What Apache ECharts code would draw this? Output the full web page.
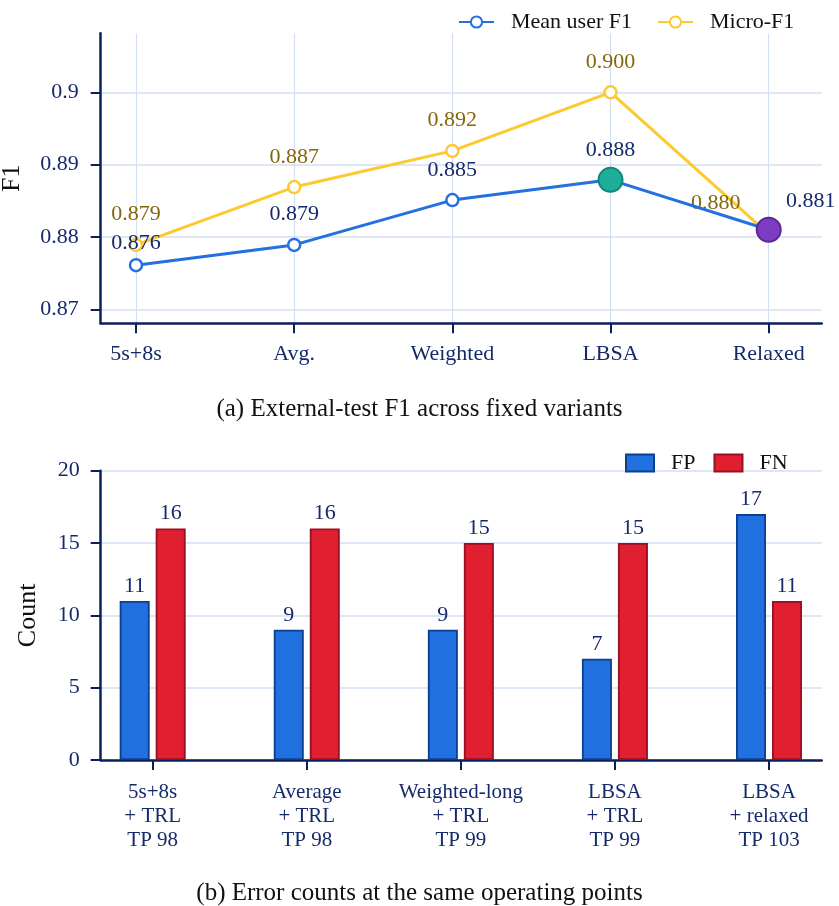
<!DOCTYPE html>
<html><head><meta charset="utf-8">
<script src="https://cdn.jsdelivr.net/npm/echarts@6/dist/echarts.min.js"></script>
<style>html,body{margin:0;padding:0;background:#fff}#c{width:839px;height:906px}</style>
</head><body><div id="c"></div>
<script>
// ---- data ----
const variantsTop = ['5s+8s', 'Avg.', 'Weighted', 'LBSA', 'Relaxed'];
const meanUserF1 = [0.8761, 0.8789, 0.8851, 0.8879, 0.8810];
const microF1 = [0.8789, 0.8869, 0.8919, 0.9000, 0.8804];
const f1Ticks = [0.87, 0.88, 0.89, 0.90];
const categoryIdx = [0, 1, 2, 3, 4];

const operatingPoints = ['5s+8s\n+ TRL\nTP 98', 'Average\n+ TRL\nTP 98', 'Weighted-long\n+ TRL\nTP 99', 'LBSA\n+ TRL\nTP 99', 'LBSA\n+ relaxed\nTP 103'];
const fpCounts = [11, 9, 9, 7, 17];
const fnCounts = [16, 16, 15, 15, 11];

// ---- style ----
const FONT = 'Liberation Serif, Times New Roman, DejaVu Serif, serif';
const NAVY = '#142a6c';
const AXIS = '#0b1f5e';
const GRID = '#d3e0f1';
const BLUE = '#2370e0';
const YEL = '#fcca2e';
const YEL_TXT = '#86660a';

const chart = echarts.init(document.getElementById('c'), null, {renderer: 'canvas'});

const blueData = meanUserF1.map((v, i) => {
  const d = {value: [categoryIdx[i], v]};
  if (i === 0) d.label = {distance: 4};
  if (i === 3) { d.symbolSize = 24; d.itemStyle = {color: '#1eae98', borderColor: '#11877a', borderWidth: 2}; d.label = {distance: 6}; }
  if (i === 4) { d.symbolSize = 24; d.itemStyle = {color: '#7c3dc2', borderColor: '#5a2797', borderWidth: 2}; d.label = {distance: 5, offset: [42, 0]}; }
  return d;
});
const yelData = microF1.map((v, i) => {
  const d = {value: [categoryIdx[i], v]};
  if (i === 4) d.label = {distance: 13, offset: [-53, 0]};
  return d;
});

const axisLbl = {color: NAVY, fontFamily: FONT, fontSize: 22};
const axLine = {show: true, onZero: false, lineStyle: {color: AXIS, width: 2.5}};

chart.setOption({
  animation: false,
  textStyle: {fontFamily: FONT},
  title: [
    {text: '(a) External-test F1 across fixed variants', left: 'center', top: 392,
     textStyle: {fontFamily: FONT, fontSize: 25, fontWeight: 'normal', color: '#111'}},
    {text: '(b) Error counts at the same operating points', left: 'center', top: 876,
     textStyle: {fontFamily: FONT, fontSize: 25, fontWeight: 'normal', color: '#111'}}
  ],
  legend: [
    {data: ['Mean user F1', 'Micro-F1'], left: 458, top: 11, padding: 0, itemWidth: 35, itemHeight: 14, itemGap: 25,
     textStyle: {fontFamily: FONT, fontSize: 22, color: '#111', padding: [0, 0, 0, 12]}},
    {data: ['FP', 'FN'], left: 625, top: 452, padding: 0, icon: 'rect', itemWidth: 28, itemHeight: 17, itemGap: 18,
     textStyle: {fontFamily: FONT, fontSize: 22, color: '#111', padding: [0, 0, 0, 12]}}
  ],
  grid: [
    {left: 100.7, right: 17.3, top: 33.3, bottom: 582.7, containLabel: false, outerBoundsMode: 'none'},
    {left: 100.7, right: 17.3, top: 470.7, bottom: 146, containLabel: false, outerBoundsMode: 'none'}
  ],
  xAxis: [
    {gridIndex: 0, type: 'value', min: -0.2231, max: 4.335,
     axisLine: axLine,
     axisTick: {show: true, customValues: categoryIdx, length: 10, lineStyle: {color: AXIS, width: 2}},
     axisLabel: Object.assign({customValues: categoryIdx, margin: 20, formatter: v => variantsTop[Math.round(v)]}, axisLbl),
     splitLine: {show: true, lineStyle: {color: GRID, width: 1.2}}},
    {gridIndex: 1, type: 'value', min: -0.3374, max: 4.342,
     axisLine: axLine,
     axisTick: {show: true, customValues: categoryIdx, length: 10, lineStyle: {color: AXIS, width: 2}},
     axisLabel: {customValues: categoryIdx, margin: 20, lineHeight: 24, fontSize: 21, color: NAVY, fontFamily: FONT,
                 formatter: v => operatingPoints[Math.round(v)]},
     splitLine: {show: false}}
  ],
  yAxis: [
    {gridIndex: 0, type: 'value', min: 0.868064, max: 0.908157,
     name: 'F1', nameLocation: 'middle', nameGap: 76, nameTextStyle: {fontFamily: FONT, fontSize: 26, color: '#111'},
     axisLine: axLine,
     axisTick: {show: true, customValues: f1Ticks, length: 10, lineStyle: {color: AXIS, width: 2}},
     axisLabel: Object.assign({customValues: f1Ticks, margin: 22}, axisLbl),
     splitLine: {show: true, lineStyle: {color: GRID, width: 1.5}}},
    {gridIndex: 1, type: 'value', min: 0, max: 20, interval: 5,
     name: 'Count', nameLocation: 'middle', nameGap: 60, nameTextStyle: {fontFamily: FONT, fontSize: 26, color: '#111'},
     axisLine: axLine,
     axisTick: {show: true, length: 10, lineStyle: {color: AXIS, width: 2}},
     axisLabel: Object.assign({margin: 21}, axisLbl),
     splitLine: {show: true, lineStyle: {color: GRID, width: 1.5}}}
  ],
  series: [
    {name: 'Micro-F1', type: 'line', xAxisIndex: 0, yAxisIndex: 0, z: 2, data: yelData,
     symbol: 'circle', symbolSize: 12,
     lineStyle: {color: YEL, width: 3},
     itemStyle: {color: '#fff', borderColor: YEL, borderWidth: 2.5},
     label: {show: true, position: 'top', distance: 12, color: YEL_TXT, fontFamily: FONT, fontSize: 22,
             formatter: p => p.value[1].toFixed(3)}},
    {name: 'Mean user F1', type: 'line', xAxisIndex: 0, yAxisIndex: 0, z: 3, data: blueData,
     symbol: 'circle', symbolSize: 12,
     lineStyle: {color: BLUE, width: 3},
     itemStyle: {color: '#fff', borderColor: BLUE, borderWidth: 2.5},
     label: {show: true, position: 'top', distance: 12, color: NAVY, fontFamily: FONT, fontSize: 22,
             formatter: p => p.value[1].toFixed(3)}},
    {name: 'FP', type: 'bar', xAxisIndex: 1, yAxisIndex: 1, barWidth: 30, barGap: '20%',
     data: fpCounts.map((v, i) => [categoryIdx[i], v]),
     itemStyle: {color: '#2170df', borderColor: '#0c3f8e', borderWidth: 1.8},
     label: {show: true, position: 'top', distance: 4, color: NAVY, fontFamily: FONT, fontSize: 22,
             formatter: p => p.value[1]}},
    {name: 'FN', type: 'bar', xAxisIndex: 1, yAxisIndex: 1, barWidth: 30, barGap: '20%',
     data: fnCounts.map((v, i) => [categoryIdx[i], v]),
     itemStyle: {color: '#e01f31', borderColor: '#9a0f22', borderWidth: 1.8},
     label: {show: true, position: 'top', distance: 4, color: NAVY, fontFamily: FONT, fontSize: 22,
             formatter: p => p.value[1]}}
  ]
});
</script></body></html>
